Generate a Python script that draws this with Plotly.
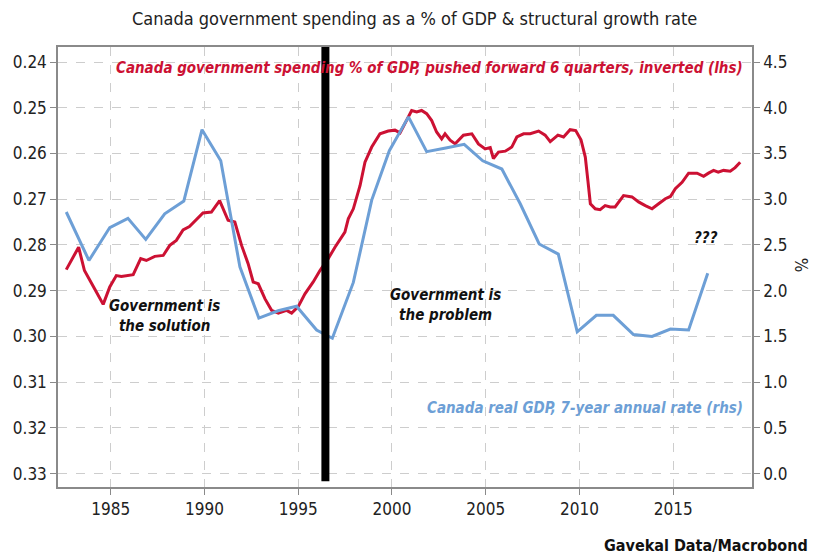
import plotly.graph_objects as go

# Red: government spending % of GDP, pushed forward 6 quarters, inverted (lhs)
red_years = [1982.63, 1983.29, 1983.6, 1983.96, 1984.2, 1984.6, 1984.95, 1985.3, 1985.57, 1986.2,
             1986.6, 1986.9, 1987.35, 1987.8, 1988.15, 1988.5, 1988.86, 1989.2, 1989.48, 1989.92,
             1990.37, 1990.81, 1991.26, 1991.62, 1991.98, 1992.33, 1992.6, 1992.87, 1993.23, 1993.58,
             1993.94, 1994.38, 1994.65, 1995.0, 1995.36, 1995.8, 1996.16, 1996.6, 1996.96, 1997.22,
             1997.49, 1997.67, 1997.94, 1998.3, 1998.56, 1998.92, 1999.36, 1999.8, 2000.16, 2000.43,
             2000.78, 2001.05, 2001.32, 2001.58, 2001.85, 2002.12, 2002.38, 2002.65, 2002.83, 2003.1,
             2003.37, 2003.81, 2004.26, 2004.61, 2004.97, 2005.24, 2005.41, 2005.68, 2006.04, 2006.39,
             2006.66, 2007.02, 2007.37, 2007.82, 2008.17, 2008.44, 2008.85, 2009.15, 2009.5, 2009.8,
             2010.08, 2010.31, 2010.45, 2010.58, 2010.84, 2011.1, 2011.37, 2011.64, 2011.9, 2012.35,
             2012.8, 2013.15, 2013.51, 2013.87, 2014.22, 2014.58, 2014.85, 2015.11, 2015.47, 2015.82,
             2016.27, 2016.62, 2016.88, 2017.15, 2017.4, 2017.68, 2018.04, 2018.3, 2018.57]
red_values = [0.2854, 0.2805, 0.2856, 0.2881, 0.2900, 0.2930, 0.2892, 0.2867, 0.2869, 0.2865,
              0.2830, 0.2834, 0.2825, 0.2823, 0.2801, 0.2790, 0.2767, 0.2760, 0.2748, 0.2730,
              0.2728, 0.2703, 0.2746, 0.2750, 0.2801, 0.2841, 0.2881, 0.2885, 0.2918, 0.2943,
              0.2949, 0.2943, 0.2949, 0.2935, 0.2907, 0.2881, 0.2856, 0.2830, 0.2805, 0.2790,
              0.2772, 0.2743, 0.2721, 0.2670, 0.2619, 0.2586, 0.2557, 0.2551, 0.2549, 0.2555,
              0.2528, 0.2506, 0.2509, 0.2506, 0.2513, 0.2528, 0.2553, 0.2568, 0.2557, 0.2571,
              0.2579, 0.2560, 0.2557, 0.2579, 0.2590, 0.2587, 0.2611, 0.2597, 0.2595, 0.2586,
              0.2564, 0.2557, 0.2557, 0.2551, 0.2560, 0.2574, 0.2560, 0.2564, 0.2548, 0.2550,
              0.2570, 0.2608, 0.2660, 0.2710, 0.2721, 0.2723, 0.2714, 0.2717, 0.2717, 0.2692,
              0.2695, 0.2706, 0.2714, 0.2721, 0.2710, 0.2699, 0.2694, 0.2677, 0.2663, 0.2643,
              0.2643, 0.2650, 0.2643, 0.2637, 0.2641, 0.2637, 0.2639, 0.2631, 0.2619]

# Blue: Canada real GDP, 7-year annual rate (rhs)
blue_years = [1982.63, 1983.84, 1984.95, 1985.92, 1986.87, 1987.88, 1988.9, 1989.87, 1990.87, 1991.89,
              1992.9, 1993.93, 1994.91, 1995.98, 1996.82, 1997.94, 1998.92, 1999.86, 2000.88, 2001.85,
              2002.87, 2003.85, 2004.84, 2005.86, 2006.84, 2007.85, 2008.87, 2009.88, 2010.9, 2011.8,
              2012.88, 2013.87, 2014.85, 2015.82, 2016.84]
blue_values = [2.86, 2.33, 2.69, 2.79, 2.56, 2.84, 2.98, 3.76, 3.42, 2.26,
               1.70, 1.78, 1.83, 1.57, 1.48, 2.09, 2.99, 3.53, 3.90, 3.52,
               3.56, 3.60, 3.42, 3.33, 2.95, 2.51, 2.40, 1.55, 1.73, 1.73,
               1.52, 1.50, 1.58, 1.57, 2.19]

lhs_ticks = [0.24, 0.25, 0.26, 0.27, 0.28, 0.29, 0.30, 0.31, 0.32, 0.33]
rhs_ticks = [0.0, 0.5, 1.0, 1.5, 2.0, 2.5, 3.0, 3.5, 4.0, 4.5]
x_ticks = [1985, 1990, 1995, 2000, 2005, 2010, 2015]
divider_year = 1996.45

RED = "#cc1133"
BLUE = "#6d9fd6"
FONT = "DejaVu Sans Condensed, sans-serif"
AXC = "#8a8a8a"
GRID = "#cdcdcd"

fig = go.Figure()
fig.add_trace(go.Scatter(x=blue_years, y=blue_values, yaxis="y2", mode="lines",
                         line=dict(color=BLUE, width=3), showlegend=False, hoverinfo="skip"))
fig.add_trace(go.Scatter(x=red_years, y=red_values, yaxis="y", mode="lines",
                         line=dict(color=RED, width=3), showlegend=False, hoverinfo="skip"))

fig.add_shape(type="line", xref="x", yref="paper", x0=divider_year, x1=divider_year,
              y0=0.013, y1=1.0, line=dict(color="black", width=8))

fig.update_layout(
    width=813, height=555,
    margin=dict(l=58, r=61, t=47, b=68),
    paper_bgcolor="white", plot_bgcolor="white",
    font=dict(family=FONT, size=16, color="#222222"),
    title=dict(text="Canada government spending as a % of GDP & structural growth rate",
               x=0.51, xanchor="center", y=0.967, yanchor="middle",
               font=dict(family=FONT, size=18, color="#222222")),
    xaxis=dict(range=[1982.19, 2019.2], tickvals=x_ticks, ticks="outside", ticklen=6,
               tickcolor=AXC, showline=True, linecolor=AXC, linewidth=1.5, mirror=True,
               showgrid=True, gridcolor=GRID, griddash="dash", gridwidth=1,
               zeroline=False, tickfont=dict(size=17)),
    yaxis=dict(range=[0.33293, 0.23672], tickvals=lhs_ticks, tickformat=".2f",
               ticks="outside", ticklen=6, tickcolor=AXC, showline=True, linecolor=AXC,
               linewidth=1.5, showgrid=True, gridcolor=GRID, griddash="dash", gridwidth=1,
               zeroline=False, tickfont=dict(size=17)),
    yaxis2=dict(range=[-0.1466, 4.664], tickvals=rhs_ticks, tickformat=".1f", overlaying="y",
                side="right", ticks="outside", ticklen=6, tickcolor=AXC, showline=True,
                linecolor=AXC, linewidth=1.5, showgrid=False, zeroline=False,
                tickfont=dict(size=17)),
)

ann = [
    dict(text="<b><i>Canada government spending % of GDP, pushed forward 6 quarters, inverted (lhs)</i></b>",
         x=0.990, y=0.952, xanchor="right", yanchor="middle", font=dict(size=15, color=RED)),
    dict(text="<b><i>Canada real GDP, 7-year annual rate (rhs)</i></b>",
         x=0.990, y=0.179, xanchor="right", yanchor="middle", font=dict(size=15, color=BLUE)),
    dict(text="<b><i>Government is<br>the solution</i></b>", x=0.154, y=0.388,
         xanchor="center", yanchor="middle", font=dict(size=15, color="#111111")),
    dict(text="<b><i>Government is<br>the problem</i></b>", x=0.558, y=0.413,
         xanchor="center", yanchor="middle", font=dict(size=15, color="#111111")),
    dict(text="<b><i>???</i></b>", x=0.933, y=0.567, xanchor="center", yanchor="middle",
         font=dict(size=15, color="#111111")),
    dict(text="%", x=1.07, y=0.504, xanchor="center", yanchor="middle", textangle=90,
         font=dict(size=17, color="#222222")),
    dict(text="<b>Gavekal Data/Macrobond</b>", x=1.084, y=-0.1325, xanchor="right",
         yanchor="middle", font=dict(size=16, color="#111111")),
]
for a in ann:
    a.update(xref="paper", yref="paper", showarrow=False)
fig.update_layout(annotations=ann)

fig.write_html("out.html")
